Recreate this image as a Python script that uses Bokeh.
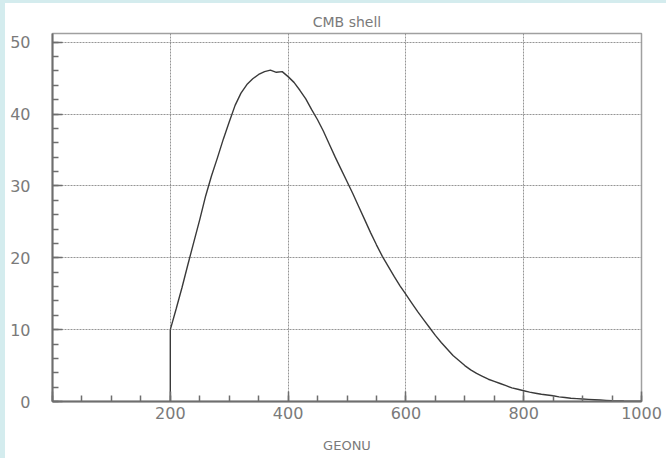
from bokeh.plotting import figure
from bokeh.models import FixedTicker, Spacer
from bokeh.layouts import column, row
from bokeh.embed import file_html
from bokeh.resources import INLINE

# ---- data ----
title_text = "CMB shell"
x_label = "GEONU"
geonu = list(range(200, 1001, 10))
counts = [10.0, 12.9, 15.9, 19.1, 22.2, 25.3, 28.6, 31.4, 33.9, 36.5,
          38.9, 41.2, 42.9, 44.1, 44.9, 45.5, 45.9, 46.1, 45.8, 45.9,
          45.2, 44.4, 43.3, 42.1, 40.6, 39.2, 37.6, 35.8, 34.0, 32.3,
          30.6, 28.9, 27.1, 25.3, 23.5, 21.8, 20.2, 18.8, 17.4, 16.1,
          14.9, 13.7, 12.5, 11.4, 10.3, 9.2, 8.2, 7.3, 6.4, 5.7,
          5.0, 4.4, 3.9, 3.5, 3.1, 2.8, 2.5, 2.2, 1.9, 1.7,
          1.5, 1.3, 1.15, 1.0, 0.9, 0.8, 0.65, 0.55, 0.45, 0.4,
          0.35, 0.3, 0.25, 0.2, 0.15, 0.1, 0.08, 0.06, 0.05, 0.04, 0.03]
x_ticks = [0, 200, 400, 600, 800, 1000]
x_minor = list(range(0, 1001, 50))
y_ticks = [0, 10, 20, 30, 40, 50]
y_minor = list(range(0, 51, 2))

BG = "#d4ecee"
TXT = "#7a7a7a"
AX = "#6e6e6e"
FONT = "DejaVu Sans"

p = figure(width=661, height=455, x_range=(0, 1000), y_range=(0, 51.2),
           output_backend="svg", toolbar_location=None,
           min_border_left=47, min_border_right=25, min_border_top=30,
           min_border_bottom=57, title=title_text)
p.background_fill_color = "white"
p.border_fill_color = "white"
p.outline_line_color = "#a0a0a0"
p.outline_line_width = 1.5

p.title.align = "center"
p.title.text_font = FONT
p.title.text_font_size = "14px"
p.title.text_font_style = "normal"
p.title.text_color = TXT
p.title.standoff = 7

p.xaxis.ticker = FixedTicker(ticks=x_ticks, minor_ticks=x_minor)
p.yaxis.ticker = FixedTicker(ticks=y_ticks, minor_ticks=y_minor)
p.xaxis.major_label_overrides = {0: ""}
p.xaxis.axis_label = x_label

for ax in (p.xaxis[0], p.yaxis[0]):
    ax.axis_line_color = AX
    ax.axis_line_width = 2
    ax.major_tick_line_color = AX
    ax.minor_tick_line_color = AX
    ax.major_tick_line_width = 1.5
    ax.minor_tick_line_width = 1.5
    ax.major_tick_in = 10
    ax.major_tick_out = 0
    ax.minor_tick_in = 6
    ax.minor_tick_out = 0
    ax.major_label_text_font = FONT
    ax.major_label_text_font_size = "16px"
    ax.major_label_text_color = TXT
    ax.axis_label_text_font = FONT
    ax.axis_label_text_font_size = "13px"
    ax.axis_label_text_font_style = "normal"
    ax.axis_label_text_color = TXT

p.yaxis.major_label_standoff = 22
p.xaxis.major_label_standoff = 5
p.xaxis.axis_label_standoff = 16

for g in (p.xgrid[0], p.ygrid[0]):
    g.grid_line_color = "#8a8a8a"
    g.grid_line_dash = "2 1"
    g.grid_line_width = 1
    g.grid_line_alpha = 0.9

# histogram curve
p.segment(x0=[geonu[0]], y0=[0], x1=[geonu[0]], y1=[counts[0]],
          line_color="#3a3a3a", line_width=1.4)
p.line(geonu, counts, line_color="#3a3a3a", line_width=1.4)

top = Spacer(width=666, height=3, styles={"background-color": BG})
left = Spacer(width=5, height=455, styles={"background-color": BG})
layout = column(top, row(left, p, spacing=0), spacing=0)

open("out.html", "w").write(file_html(layout, INLINE))
